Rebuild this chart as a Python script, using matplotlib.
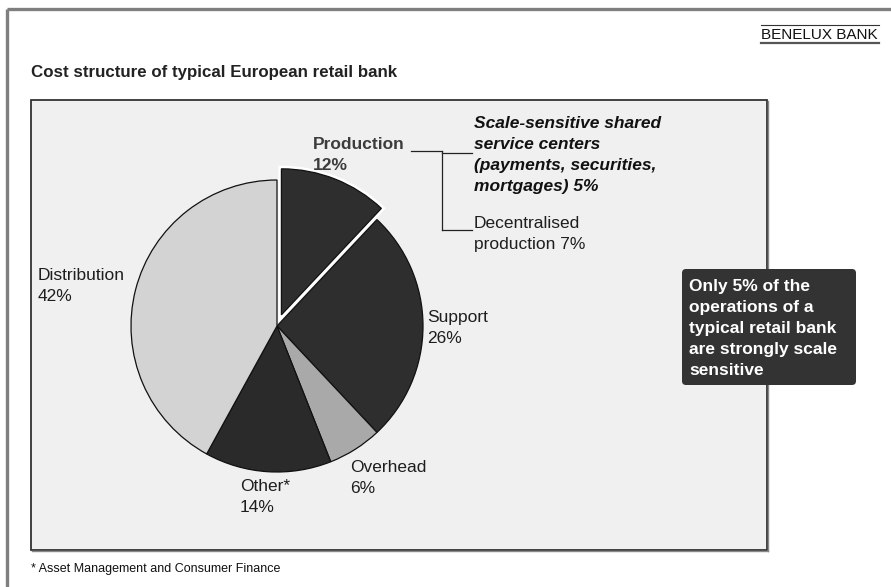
import matplotlib
matplotlib.use("Agg")
import matplotlib.pyplot as plt
from matplotlib.patches import Rectangle, FancyBboxPatch, Wedge
from matplotlib.lines import Line2D

plt.rcParams['font.family'] = ['Liberation Sans', 'DejaVu Sans']

# ---- data ----
segments = ["Production", "Support", "Overhead", "Other*", "Distribution"]
shares = [12, 26, 6, 14, 42]
seg_colors = ["#2e2e2e", "#2e2e2e", "#a9a9a9", "#2a2a2a", "#d3d3d3"]
production_parts = ["Scale-sensitive shared\nservice centers\n(payments, securities,\nmortgages)",
                    "Decentralised\nproduction"]
production_shares = [5, 7]
title = "Cost structure of typical European retail bank"
brand = "BENELUX BANK"
callout = "Only 5% of the\noperations of a\ntypical retail bank\nare strongly scale\nsensitive"
footnote = "* Asset Management and Consumer Finance"

W, H = 891, 587
fig = plt.figure(figsize=(W / 100, H / 100), dpi=100)
ax = fig.add_axes([0, 0, 1, 1])


def Y(y):
    return H - y


def text_lines(x, y0, text, step=21, **kw):
    for i, s in enumerate(text.split("\n")):
        ax.text(x, Y(y0 + i * step), s, va="baseline", ha="left", **kw)


# outer page frame
ax.add_line(Line2D([7, W], [Y(9), Y(9)], color="#7f7f7f", lw=2.4, solid_capstyle="butt"))
ax.add_line(Line2D([7, 7], [Y(9), 0], color="#7f7f7f", lw=2.4, solid_capstyle="butt"))

# brand tag with rules
ax.add_line(Line2D([761, 879], [Y(25), Y(25)], color="#333333", lw=0.8))
ax.add_line(Line2D([761, 879], [Y(43), Y(43)], color="#555555", lw=1.6))
ax.text(761, Y(39), brand, fontsize=11, color="#111111", va="baseline", ha="left")

# title
ax.text(31, Y(77), title, fontsize=12.2, fontweight="bold", color="#222222",
        va="baseline", ha="left")

# chart panel
ax.add_line(Line2D([32, 768], [Y(551), Y(551)], color="#888888", lw=1.0))
ax.add_line(Line2D([768, 768], [Y(101), Y(551)], color="#888888", lw=1.0))
ax.add_patch(Rectangle((31, Y(550)), 736, 450, facecolor="#f0f0f0",
                       edgecolor="#333333", lw=1.3, zorder=0.5))

# pie
cx, cy, r = 277, 326, 146
wedges, _ = ax.pie(shares, colors=seg_colors, startangle=90, counterclock=False,
                   center=(cx, Y(cy)), radius=r, explode=[12, 0, 0, 0, 0],
                   wedgeprops=dict(edgecolor="#111111", linewidth=0.9))
for w in wedges:
    w.set_zorder(2)
pw = wedges[0]
halo = Wedge(pw.center, pw.r, pw.theta1, pw.theta2, facecolor="none",
             edgecolor="white", lw=4.5, zorder=2.5)
ax.add_patch(halo)
pw.set_zorder(3)

# segment labels
lab_kw = dict(fontsize=12.5, color="#1e1e1e", zorder=4)
text_lines(313, 149, f"{segments[0]}\n{shares[0]}%", fontsize=12.5,
           fontweight="bold", color="#3c3c3c", zorder=4)
text_lines(427, 322, f"{segments[1]}\n{shares[1]}%", **lab_kw)
text_lines(350, 472, f"{segments[2]}\n{shares[2]}%", **lab_kw)
text_lines(240, 491, f"{segments[3]}\n{shares[3]}%", **lab_kw)
text_lines(38, 280, f"{segments[4]}\n{shares[4]}%", **lab_kw)

# production breakdown
text_lines(474, 128, f"{production_parts[0]} {production_shares[0]}%", fontsize=12.5,
           fontweight="bold", fontstyle="italic", color="#111111", zorder=4)
text_lines(474, 228, f"{production_parts[1]} {production_shares[1]}%", **lab_kw)
lk = dict(color="#222222", lw=0.9, zorder=4)
ax.add_line(Line2D([411, 442], [Y(151), Y(151)], **lk))
ax.add_line(Line2D([442, 472], [Y(153), Y(153)], **lk))
ax.add_line(Line2D([442, 442], [Y(151), Y(230)], **lk))
ax.add_line(Line2D([442, 472], [Y(230), Y(230)], **lk))

# callout
ax.add_patch(FancyBboxPatch((682, Y(385)), 174, 116,
                            boxstyle="round,pad=0,rounding_size=4",
                            facecolor="#333333", edgecolor="none", zorder=5))
text_lines(689, 291, callout, step=21.1, fontsize=12.5, fontweight="bold",
           color="white", zorder=6)

# footnote
ax.text(31, Y(572), footnote, fontsize=9, color="#111111", va="baseline", ha="left")

ax.set_xlim(0, W)
ax.set_ylim(0, H)
ax.set_aspect("auto")
ax.axis("off")
fig.savefig("out.png", dpi=100, facecolor="white")
